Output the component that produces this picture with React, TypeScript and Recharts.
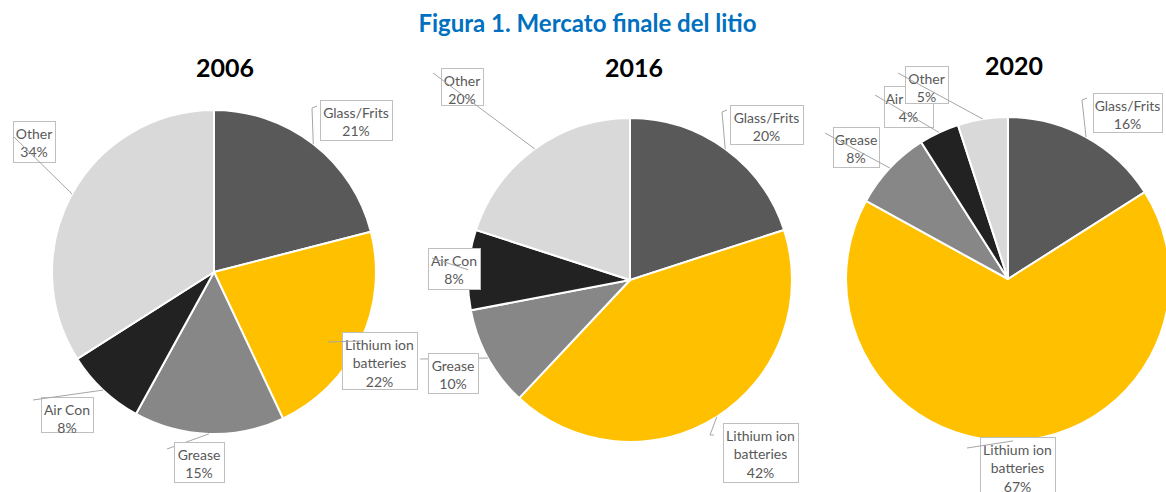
import React from 'react';
import { PieChart, Pie, Cell } from 'recharts';

const categories = ['Glass/Frits', 'Lithium ion batteries', 'Grease', 'Air Con', 'Other'];
const years = ['2006', '2016', '2020'];
const values2006 = [21, 22, 15, 8, 34];
const values2016 = [20, 42, 10, 8, 20];
const values2020 = [16, 67, 8, 4, 5];

const colors = ['#595959', '#FFC000', '#878787', '#222222', '#D9D9D9'];
const FONT = 'Lato, "Noto Sans", sans-serif';

type LabelLayout = { box: [number, number, number, number]; end: [number, number][]; over: boolean };

// label box placement relative to each pie centre (layout only)
const layout2006: LabelLayout[] = [
  { box: [106, -172, 72, 40], end: [[98, -164], [103, -166]], over: false },
  { box: [128, 60, 75, 57], end: [[114, 70]], over: true },
  { box: [-40, 170, 50, 40], end: [[-47, 177]], over: false },
  { box: [-173, 125, 52, 35], end: [[-181, 128]], over: true },
  { box: [-201, -151, 42, 41], end: [[-200, -135]], over: true },
];
const layout2016: LabelLayout[] = [
  { box: [100, -175, 73, 39], end: [[92, -168], [97, -170]], over: false },
  { box: [93, 143, 75, 59], end: [[80, 155], [84, 155]], over: false },
  { box: [-202, 73, 50, 40], end: [[-210, 79]], over: false },
  { box: [-202, -32, 52, 41], end: [[-198, -22]], over: true },
  { box: [-189, -212, 42, 37], end: [[-197, -207]], over: true },
];
const layout2020: LabelLayout[] = [
  { box: [85, -186, 69, 39], end: [[74, -179], [79, -181]], over: false },
  { box: [-28, 158, 75, 60], end: [[-41, 169]], over: true },
  { box: [-175, -152, 46, 40], end: [[-183, -146]], over: true },
  { box: [-124, -193, 49, 41], end: [[-133, -184]], over: true },
  { box: [-103, -213, 43, 37], end: [[-110, -206]], over: true },
];

const pies = [
  { year: years[0], values: values2006, cx: 214, cy: 272, layout: layout2006 },
  { year: years[1], values: values2016, cx: 630, cy: 280, layout: layout2016 },
  { year: years[2], values: values2020, cx: 1008, cy: 279, layout: layout2020 },
];
const yearTitlePos = [
  { x: 225, y: 67 },
  { x: 634, y: 67 },
  { x: 1014, y: 65 },
];

const wrap = (s: string): string[] => {
  if (s.length <= 12) return [s];
  const idx = s.lastIndexOf(' ', 12);
  if (idx <= 0) return [s];
  return [s.slice(0, idx), s.slice(idx + 1)];
};

const makeLabel = (layout: LabelLayout[]) => (props: any) => {
  const { cx, cy, midAngle, outerRadius, index, value, name } = props;
  const L = layout[index];
  if (!L) return null;
  const RAD = Math.PI / 180;
  const sx = cx + outerRadius * Math.cos(-midAngle * RAD);
  const sy = cy + outerRadius * Math.sin(-midAngle * RAD);
  const pts = [[sx, sy], ...L.end.map(([dx, dy]) => [cx + dx, cy + dy])];
  const line = (
    <polyline
      key="l"
      points={pts.map((p) => p.join(',')).join(' ')}
      fill="none"
      stroke="#A6A6A6"
      strokeWidth={1}
    />
  );
  const [bx, by, bw, bh] = L.box;
  const lines = [...wrap(String(name)), `${value}%`];
  const box = (
    <g key="b">
      <rect x={cx + bx + 0.5} y={cy + by + 0.5} width={bw} height={bh} fill="#FFFFFF" stroke="#BFBFBF" strokeWidth={1} />
      {lines.map((t, i) => (
        <text
          key={i}
          x={cx + bx + bw / 2}
          y={cy + by + 12 + i * 18.5}
          textAnchor="middle"
          dominantBaseline="central"
          fontFamily={FONT}
          fontSize={14}
          fill="#595959"
        >
          {t}
        </text>
      ))}
    </g>
  );
  return <g>{L.over ? [box, line] : [line, box]}</g>;
};

export default function App() {
  return (
    <div style={{ position: 'absolute', left: 0, top: 0, width: 1166, height: 492, background: '#fff', overflow: 'hidden' }}>
      <PieChart width={1166} height={492} margin={{ top: 0, right: 0, bottom: 0, left: 0 }}>
        {pies.map((p) => (
          <Pie
            key={p.year}
            data={categories.map((name, i) => ({ name, value: p.values[i] }))}
            dataKey="value"
            nameKey="name"
            cx={p.cx}
            cy={p.cy}
            outerRadius={162}
            innerRadius={0}
            startAngle={90}
            endAngle={-270}
            stroke="#FFFFFF"
            strokeWidth={2}
            isAnimationActive={false}
            labelLine={false}
            label={makeLabel(p.layout)}
          >
            {categories.map((c, i) => (
              <Cell key={c} fill={colors[i]} />
            ))}
          </Pie>
        ))}
      </PieChart>
      <div
        style={{
          position: 'absolute', left: 0, top: 9, width: 1166, textAlign: 'center',
          fontFamily: FONT, fontWeight: 700, fontSize: 24, lineHeight: '28px', color: '#0070C0',
          paddingLeft: 9, boxSizing: 'border-box',
        }}
      >
        Figura 1. Mercato finale del litio
      </div>
      {pies.map((p, i) => (
        <div
          key={p.year}
          style={{
            position: 'absolute', left: yearTitlePos[i].x - 60, top: yearTitlePos[i].y - 15, width: 120, height: 30,
            textAlign: 'center', fontFamily: FONT, fontWeight: 700, fontSize: 25, lineHeight: '30px', color: '#000',
          }}
        >
          {p.year}
        </div>
      ))}
    </div>
  );
}
